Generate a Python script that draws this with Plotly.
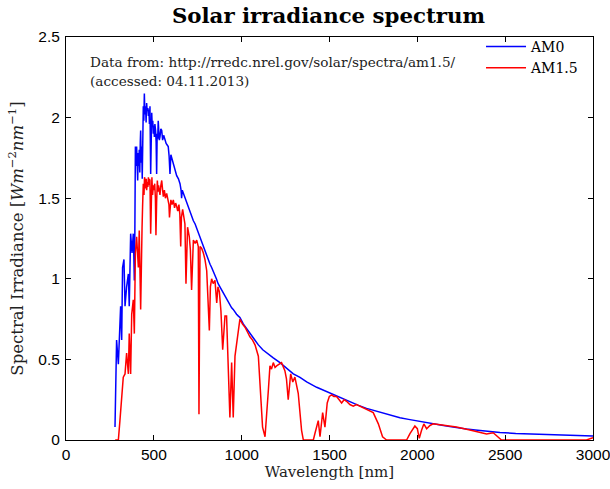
import plotly.graph_objects as go

# AM0 (extraterrestrial) spectrum
am0_wl = [279, 285, 288, 298, 303, 311, 317, 322, 330, 336, 345, 355, 360, 368, 376, 383, 386,
          389, 392, 395, 398, 402, 405, 408, 411, 414, 417, 420, 423, 425, 428, 431, 434, 437,
          440, 443, 446, 449, 453, 456, 459, 462, 466, 469, 472, 475, 478, 482, 485, 488, 491,
          494, 497, 500, 503, 506, 510, 513, 516, 519, 522, 525, 528, 531, 535, 540, 545, 550,
          556, 563, 570, 576, 582, 587, 592, 597, 604, 611, 620, 630, 640, 649, 655, 658, 662,
          672, 680, 687, 696, 705, 715, 725, 735, 745, 754, 763, 772, 782, 791, 800, 810, 820,
          829, 838, 847, 856, 866, 876, 885, 895, 905, 914, 924, 933, 943, 952, 962, 971, 980,
          990, 1009, 1028, 1047, 1066, 1095, 1120, 1142, 1180, 1218, 1256, 1294, 1332, 1370,
          1427, 1484, 1521, 1578, 1616, 1665, 1711, 1760, 1806, 1850, 1901, 1950, 1996, 2040,
          2090, 2140, 2185, 2230, 2280, 2330, 2375, 2420, 2470, 2560, 2660, 2750, 2849, 2920,
          3000]
am0_val = [0.08, 0.33, 0.62, 0.47, 0.66, 0.83, 0.62, 1.07, 1.12, 0.83, 0.95, 1.03, 0.83, 1.28,
           1.16, 1.28, 1.15, 0.99, 1.30, 1.82, 1.70, 1.82, 1.75, 1.61, 1.78, 1.70, 1.80, 1.66,
           1.85, 1.92, 1.72, 1.82, 1.62, 1.95, 2.07, 1.98, 2.15, 2.02, 2.07, 1.97, 2.09, 2.04,
           2.06, 2.01, 2.05, 1.96, 2.07, 1.65, 1.98, 2.03, 1.94, 1.98, 1.90, 1.95, 1.88, 1.96,
           1.92, 1.85, 1.65, 1.90, 1.87, 1.98, 1.90, 1.86, 1.88, 1.93, 1.92, 1.86, 1.89, 1.86,
           1.84, 1.83, 1.82, 1.76, 1.65, 1.77, 1.74, 1.72, 1.69, 1.64, 1.62, 1.59, 1.55, 1.50,
           1.55, 1.52, 1.50, 1.47, 1.45, 1.42, 1.39, 1.36, 1.34, 1.31, 1.28, 1.26, 1.23, 1.20,
           1.17, 1.14, 1.12, 1.09, 1.07, 1.05, 1.02, 1.00, 0.97, 0.95, 0.93, 0.91, 0.89, 0.87,
           0.85, 0.84, 0.82, 0.81, 0.79, 0.78, 0.77, 0.76, 0.72, 0.69, 0.66, 0.63, 0.59, 0.56,
           0.54, 0.51, 0.48, 0.445, 0.41, 0.389, 0.36, 0.327, 0.30, 0.28, 0.255, 0.238, 0.215,
           0.196, 0.18, 0.165, 0.15, 0.138, 0.128, 0.118, 0.109, 0.10, 0.091, 0.083, 0.075,
           0.068, 0.062, 0.056, 0.051, 0.047, 0.041, 0.037, 0.033, 0.029, 0.027, 0.025]

# AM1.5 (ground level) spectrum
am15_wl = [280, 298, 307, 317, 326, 336, 345, 355, 360, 368, 374, 383, 389, 395, 402, 412, 417,
           425, 428, 433, 436, 440, 444, 447, 450, 454, 457, 459, 463, 466, 469, 472, 475, 478,
           482, 485, 489, 493, 497, 501, 505, 509, 512, 516, 520, 524, 527, 531, 535, 540, 545,
           550, 554, 560, 566, 573, 580, 586, 589, 592, 597, 604, 611, 618, 624, 630, 636, 643,
           648, 653, 657, 664, 670, 677, 683, 688, 692, 702, 708, 715, 720, 725, 735, 744, 753,
           757, 763, 772, 782, 791, 801, 816, 822, 829, 838, 848, 858, 865, 873, 882, 892, 899,
           905, 914, 924, 933, 943, 952, 962, 975, 990, 1004, 1019, 1033, 1047, 1062, 1076,
           1095, 1108, 1119, 1133, 1142, 1152, 1161, 1170, 1180, 1190, 1199, 1213, 1227, 1246,
           1255, 1265, 1279, 1291, 1303, 1322, 1341, 1351, 1408, 1417, 1436, 1446, 1461, 1474,
           1487, 1499, 1512, 1525, 1540, 1555, 1569, 1583, 1597, 1616, 1635, 1654, 1673, 1692,
           1711, 1730, 1749, 1778, 1802, 1825, 1939, 1958, 1986, 2000, 2011, 2024, 2037, 2053,
           2072, 2090, 2147, 2223, 2299, 2356, 2394, 2432, 2460, 2479, 2963, 2982, 3000]
am15_val = [0, 0, 0.12, 0.25, 0.39, 0.41, 0.54, 0.41, 0.66, 0.41, 0.78, 0.87, 0.66, 1.16, 1.26,
            1.07, 1.30, 0.81, 1.20, 1.32, 1.45, 1.59, 1.52, 1.63, 1.61, 1.56, 1.62, 1.55, 1.60,
            1.57, 1.63, 1.58, 1.62, 1.61, 1.28, 1.57, 1.63, 1.52, 1.58, 1.55, 1.59, 1.50, 1.27,
            1.48, 1.61, 1.54, 1.58, 1.55, 1.52, 1.58, 1.61, 1.55, 1.51, 1.55, 1.50, 1.53, 1.49,
            1.46, 1.38, 1.45, 1.49, 1.46, 1.49, 1.44, 1.47, 1.45, 1.42, 1.46, 1.40, 1.20, 1.38,
            1.43, 1.38, 1.34, 0.97, 1.28, 1.32, 1.26, 1.18, 0.93, 1.15, 1.24, 1.22, 1.24, 1.20,
            0.16, 1.20, 1.19, 1.16, 1.12, 1.05, 0.68, 0.95, 1.00, 0.97, 0.99, 0.85, 0.95, 0.92,
            0.80, 0.56, 0.72, 0.77, 0.77, 0.48, 0.14, 0.48, 0.14, 0.52, 0.64, 0.75, 0.72, 0.70,
            0.67, 0.64, 0.62, 0.59, 0.52, 0.31, 0.08, 0.02, 0.19, 0.31, 0.46, 0.44, 0.48, 0.45,
            0.46, 0.47, 0.48, 0.43, 0.38, 0.25, 0.41, 0.36, 0.39, 0.29, 0.06, 0, 0, 0.04, 0.12,
            0.02, 0.17, 0.08, 0.23, 0.27, 0.28, 0.27, 0.27, 0.25, 0.23, 0.25, 0.24, 0.22, 0.21,
            0.22, 0.21, 0.20, 0.19, 0.18, 0.17, 0.10, 0.02, 0, 0, 0.04, 0.087, 0.07, 0.01, 0.06,
            0.10, 0.07, 0.09, 0.10, 0.093, 0.08, 0.062, 0.045, 0.037, 0.045, 0.02, 0, 0, 0.01,
            0.015]

x_ticks = [0, 500, 1000, 1500, 2000, 2500, 3000]
y_ticks = [0, 0.5, 1, 1.5, 2, 2.5]
y_tick_text = ["0", "0.5", "1", "1.5", "2", "2.5"]

SERIF = "DejaVu Serif, Liberation Serif, serif"
SANS = "Liberation Sans, Arial, sans-serif"

fig = go.Figure()
fig.add_trace(go.Scatter(x=am0_wl, y=am0_val, mode="lines", name="AM0",
                         line=dict(color="#0000ff", width=1.5)))
fig.add_trace(go.Scatter(x=am15_wl, y=am15_val, mode="lines", name="AM1.5",
                         line=dict(color="#ff0000", width=1.5)))

axis_common = dict(showline=True, linecolor="black", linewidth=1, mirror="allticks",
                   ticks="inside", ticklen=5, tickcolor="black", showgrid=False,
                   zeroline=False, automargin=False, ticklabeloverflow="allow",
                   tickfont=dict(family=SANS, size=15.5, color="black"))

fig.update_layout(
    width=610, height=489,
    margin=dict(l=66, r=17, t=37, b=49),
    paper_bgcolor="white", plot_bgcolor="white",
    title=dict(text="<b>Solar irradiance spectrum</b>", x=0.5385, xanchor="center",
               y=0.969, yanchor="middle", automargin=False,
               font=dict(family=SERIF, size=21.3, color="black")),
    xaxis=dict(range=[0, 3000], tickvals=x_ticks, **axis_common,
               title=dict(text="Wavelength [nm]", standoff=3,
                          font=dict(family=SERIF, size=15, color="#222"))),
    yaxis=dict(range=[0, 2.5], tickvals=y_ticks, ticktext=y_tick_text, **axis_common,
               ticklabelstandoff=2,
               title=dict(text="Spectral Irradiance [<i>Wm</i><sup>\u22122</sup><i>nm</i><sup>\u22121</sup>]",
                          standoff=10, font=dict(family=SERIF, size=16.5, color="#222"))),
    legend=dict(x=0.7875, y=1.015, xanchor="left", yanchor="top",
                bgcolor="rgba(255,255,255,0)", borderwidth=0,
                font=dict(family=SERIF, size=14, color="black"),
                tracegroupgap=0, itemwidth=40),
    showlegend=True,
    hovermode=False,
    annotations=[
        dict(text="Data from: http://rredc.nrel.gov/solar/spectra/am1.5/",
             xref="paper", yref="paper", x=0.042, y=0.938, xanchor="left", yanchor="middle",
             align="left", showarrow=False,
             font=dict(family=SERIF, size=13.6, color="#222")),
        dict(text="(accessed: 04.11.2013)",
             xref="paper", yref="paper", x=0.042, y=0.891, xanchor="left", yanchor="middle",
             align="left", showarrow=False,
             font=dict(family=SERIF, size=13.6, color="#222")),
    ],
)

# remove the browser's default page margin so the figure fills the window exactly
fig.write_html("out.html", config={"displayModeBar": False},
               post_script="document.body.style.margin='0px';")
